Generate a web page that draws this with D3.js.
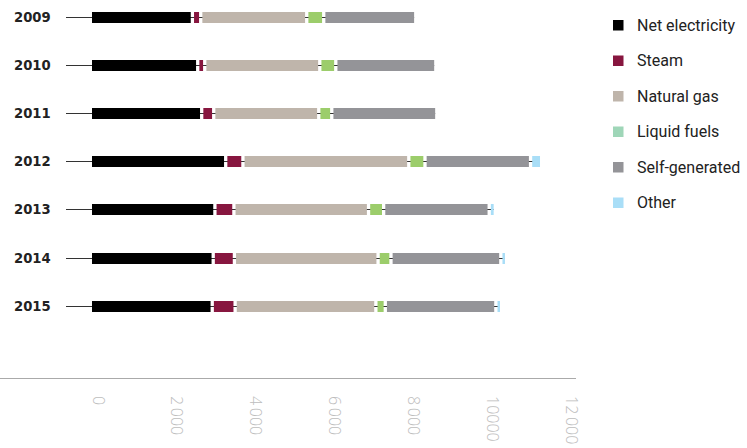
<!DOCTYPE html>
<html>
<head>
<meta charset="utf-8">
<script src="https://cdn.jsdelivr.net/npm/d3@7"></script>
<style>
  html, body { margin: 0; padding: 0; background: #fff; }
  svg { display: block; }
</style>
</head>
<body>
<svg id="chart" width="747" height="448"></svg>
<script>
const years = ["2009", "2010", "2011", "2012", "2013", "2014", "2015"];
const netElectricity = [2505, 2640, 2741, 3350, 3076, 3033, 3008];
const steam          = [211, 178, 305, 437, 482, 538, 581];
const naturalGas     = [2690, 2919, 2665, 4208, 3416, 3645, 3571];
const liquidFuels    = [431, 406, 330, 411, 383, 327, 239];
const selfGenerated  = [2335, 2538, 2665, 2678, 2678, 2787, 2805];
const other          = [0, 0, 0, 282, 155, 147, 147];
const seriesNames = ["Net electricity", "Steam", "Natural gas", "Liquid fuels", "Self-generated", "Other"];
const tickValues = [0, 2000, 4000, 6000, 8000, 10000, 12000];
const tickLabels = ["0", "2\u2009000", "4\u2009000", "6\u2009000", "8\u2009000", "10000", "12\u2009000"];

const barColors = ["#000000", "#87163f", "#bfb5ab", "#9ccd6b", "#949498", "#a9def7"];
const legendColors = ["#000000", "#87163f", "#bfb5ab", "#9fd6b8", "#949498", "#a9def7"];

const seriesData = [netElectricity, steam, naturalGas, liquidFuels, selfGenerated, other];
const rows = years.map((y, i) => {
  const r = { year: y };
  seriesNames.forEach((s, j) => r[s] = seriesData[j][i]);
  return r;
});
const stacked = d3.stack().keys(seriesNames)(rows);

const svg = d3.select("#chart");
const x = d3.scaleLinear().domain([0, 12000]).range([92, 565]);
const y = d3.scalePoint().domain(years).range([16.5, 305.7]);
const barH = 11;
const gap = 3.3;

// background lines through each bar
const totals = rows.map((r, i) => d3.sum(seriesData, s => s[i]));
svg.append("g").selectAll("line").data(years).join("line")
  .attr("x1", 66)
  .attr("x2", (d, i) => x(totals[i]))
  .attr("y1", d => Math.round(y(d)) + 0.5)
  .attr("y2", d => Math.round(y(d)) + 0.5)
  .attr("stroke", "#333")
  .attr("stroke-width", 1);

// bars
svg.append("g").selectAll("g").data(stacked).join("g")
  .attr("fill", (d, i) => barColors[i])
  .selectAll("rect").data((d, i) => d.map(v => ({ v, i })))
  .join("rect")
  .attr("x", d => x(d.v[0]) + (d.i > 0 ? gap : 0))
  .attr("width", d => Math.max(0, x(d.v[1]) - x(d.v[0]) - (d.i > 0 ? gap : 0)))
  .attr("y", d => Math.round(y(d.v.data.year)) - barH / 2 + 0.5)
  .attr("height", d => (d.v[1] - d.v[0]) > 0 ? barH : 0);

// year labels
svg.append("g").selectAll("text").data(years).join("text")
  .attr("x", 14)
  .attr("y", d => y(d) + 5)
  .attr("font-family", "DejaVu Sans")
  .attr("font-weight", "bold")
  .attr("font-size", 13.2)
  .attr("fill", "#222")
  .text(d => d);

// x axis
svg.append("line")
  .attr("x1", 0).attr("x2", 576)
  .attr("y1", 378.5).attr("y2", 378.5)
  .attr("stroke", "#aaa").attr("stroke-width", 1);

const axis = d3.axisBottom(x).tickValues(tickValues).tickSize(0)
  .tickFormat((d, i) => tickLabels[i]);
const ax = svg.append("g").attr("transform", "translate(0,378)").call(axis);
ax.select(".domain").remove();
ax.selectAll("text")
  .attr("transform", "rotate(90)")
  .attr("x", 18)
  .attr("y", 0)
  .attr("dy", 0)
  .attr("text-anchor", "start")
  .attr("font-family", "Open Sans")
  .attr("font-weight", 300)
  .attr("font-size", 16)
  .attr("fill", "#bdbdbd");

// legend
const lg = svg.append("g").selectAll("g").data(seriesNames).join("g")
  .attr("transform", (d, i) => `translate(613,${20 + i * 35.5})`);
lg.append("rect").attr("width", 10.5).attr("height", 10.5)
  .attr("fill", (d, i) => legendColors[i]);
lg.append("text")
  .attr("x", 24).attr("y", 10.5)
  .attr("font-family", "Roboto")
  .attr("font-size", 16)
  .attr("fill", "#222")
  .text(d => d);
</script>
</body>
</html>
